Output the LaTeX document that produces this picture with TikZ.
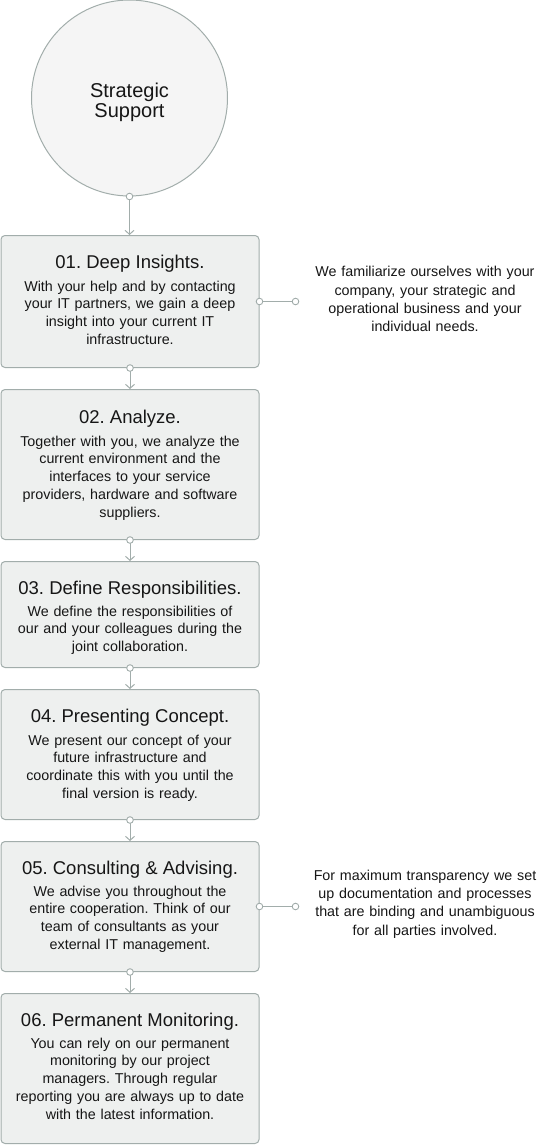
\documentclass[tikz,border=0pt]{standalone}
\usepackage{fontspec}
\setmainfont{Liberation Sans}
\frenchspacing
\usetikzlibrary{arrows.meta}
\definecolor{linec}{HTML}{A2ADAB}
\definecolor{boxfill}{HTML}{EEF0EF}
\definecolor{roundfill}{HTML}{F5F5F5}
\definecolor{inkc}{HTML}{161616}
\begin{document}
\begin{tikzpicture}[x=1pt,y=-1pt]
    \tikzstyle{stepbox}=[rectangle,draw=linec,fill=boxfill,line width=1pt,rounded corners=4pt,minimum width=258pt,anchor=north,inner sep=0pt]
    \tikzstyle{steptitle}=[anchor=base,inner sep=0pt,text=inkc,font=\fontsize{18.5}{22}\selectfont]
    \tikzstyle{stepbody}=[anchor=base,inner sep=0pt,text=inkc,text width=250pt,align=center,font=\fontsize{14.3}{17.8}\selectfont]
    \tikzstyle{sidenote}=[inner sep=0pt,text=inkc,text width=230pt,align=center,font=\fontsize{14.3}{18.2}\selectfont]
    \tikzstyle{link}=[draw=linec,line width=1pt]
    \tikzstyle{dot}=[draw=linec,fill=white,line width=0.9pt]
    \useasboundingbox (0,0) rectangle (555,1145);

    \node[circle,draw=linec,fill=roundfill,line width=1pt,minimum size=196pt,inner sep=0pt] (strategic) at (129.5,98) {};
    \node[inner sep=0pt,align=center,text=inkc,font=\fontsize{20}{20}\selectfont] (strategictext) at (129.5,102) {Strategic\\Support};

    \node[stepbox,minimum height=132pt] (s1) at (130,235) {};
    \node[stepbox,minimum height=150pt] (s2) at (130,389) {};
    \node[stepbox,minimum height=106pt] (s3) at (130,561) {};
    \node[stepbox,minimum height=130pt] (s4) at (130,689) {};
    \node[stepbox,minimum height=130pt] (s5) at (130,841) {};
    \node[stepbox,minimum height=150pt] (s6) at (130,993) {};

    \node[steptitle] (t1) at ([yshift=-33pt]s1.north) {01. Deep Insights.};
    \node[stepbody]  (b1) at ([yshift=-56pt]s1.north) {With your help and by contacting\\your IT partners, we gain a deep\\insight into your current IT\\infrastructure.};
    \node[steptitle] (t2) at ([yshift=-34pt]s2.north) {02. Analyze.};
    \node[stepbody]  (b2) at ([yshift=-57pt]s2.north) {Together with you, we analyze the\\current environment and the\\interfaces to your service\\providers, hardware and software\\suppliers.};
    \node[steptitle] (t3) at ([yshift=-33pt]s3.north) {03. Define Responsibilities.};
    \node[stepbody]  (b3) at ([yshift=-55pt]s3.north) {We define the responsibilities of\\our and your colleagues during the\\joint collaboration.};
    \node[steptitle] (t4) at ([yshift=-33pt]s4.north) {04. Presenting Concept.};
    \node[stepbody]  (b4) at ([yshift=-56pt]s4.north) {We present our concept of your\\future infrastructure and\\coordinate this with you until the\\final version is ready.};
    \node[steptitle] (t5) at ([yshift=-33pt]s5.north) {05. Consulting \& Advising.};
    \node[stepbody]  (b5) at ([yshift=-55pt]s5.north) {We advise you throughout the\\entire cooperation. Think of our\\team of consultants as your\\external IT management.};
    \node[steptitle] (t6) at ([yshift=-33pt]s6.north) {06. Permanent Monitoring.};
    \node[stepbody]  (b6) at ([yshift=-55pt]s6.north) {You can rely on our permanent\\monitoring by our project\\managers. Through regular\\reporting you are always up to date\\with the latest information.};

    % down the steps
    \draw[link,-{Straight Barb[length=4pt,width=9pt]}] (strategic.south) -- (strategic.south |- s1.north);
    \draw[link,-{Straight Barb[length=4pt,width=9pt]}] (s1.south) -- (s2.north);
    \draw[link,-{Straight Barb[length=4pt,width=9pt]}] (s2.south) -- (s3.north);
    \draw[link,-{Straight Barb[length=4pt,width=9pt]}] (s3.south) -- (s4.north);
    \draw[link,-{Straight Barb[length=4pt,width=9pt]}] (s4.south) -- (s5.north);
    \draw[link,-{Straight Barb[length=4pt,width=9pt]}] (s5.south) -- (s6.north);
    \filldraw[dot] (strategic.south) circle (3.3pt)
                   (s1.south) circle (3.3pt)
                   (s2.south) circle (3.3pt)
                   (s3.south) circle (3.3pt)
                   (s4.south) circle (3.3pt)
                   (s5.south) circle (3.3pt);

    % side notes
    \coordinate (n1) at ([xshift=36pt]s1.east);
    \coordinate (n5) at ([xshift=36pt]s5.east);
    \draw[link] (s1.east) -- (n1);
    \draw[link] (s5.east) -- (n5);
    \filldraw[dot] (s1.east) circle (3.3pt) (n1) circle (3.3pt)
                   (s5.east) circle (3.3pt) (n5) circle (3.3pt);
    \node[sidenote] (note1) at (425,299) {We familiarize ourselves with your\\company, your strategic and\\operational business and your\\individual needs.};
    \node[sidenote] (note5) at (425,904) {For maximum transparency we set\\up documentation and processes\\that are binding and unambiguous\\for all parties involved.};

\end{tikzpicture}
\end{document}
